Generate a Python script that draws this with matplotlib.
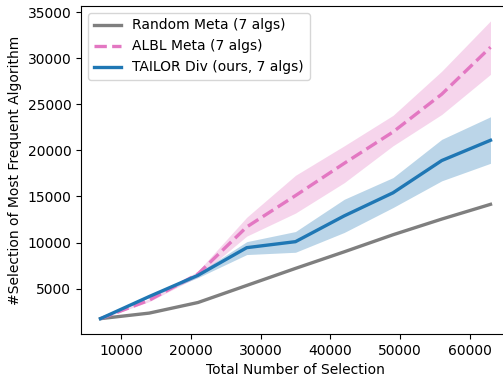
import matplotlib
matplotlib.use("Agg")
import matplotlib.pyplot as plt
import numpy as np

x = [7000, 14000, 21000, 28000, 35000, 42000, 49000, 56000, 63000]

random_mean = [1750, 2350, 3500, 5350, 7200, 9000, 10850, 12550, 14150]

albl_mean = [1750, 3750, 6600, 11700, 15100, 18600, 22000, 26100, 31200]
albl_low = [1700, 3600, 6300, 10700, 13200, 16500, 20500, 23900, 28250]
albl_high = [1800, 3900, 6900, 12750, 17300, 20500, 23800, 28600, 34050]

tailor_mean = [1750, 4150, 6450, 9450, 10100, 12900, 15400, 18900, 21100]
tailor_low = [1700, 4050, 6200, 8700, 8950, 11100, 13800, 16700, 18600]
tailor_high = [1800, 4250, 6700, 10100, 11200, 14700, 17050, 21200, 23650]

plt.rcParams['font.size'] = 10
fig = plt.figure(figsize=(5.03, 3.77), dpi=100)
ax = fig.add_axes([81/503, 43/377, (510-81)/503, (334-6)/377])

ax.plot(x, random_mean, color='tab:gray', lw=2.4, label='Random Meta (7 algs)')
ax.plot(x, albl_mean, color='tab:pink', lw=2.4, ls='--', label='ALBL Meta (7 algs)')
ax.fill_between(x, albl_low, albl_high, color='tab:pink', alpha=0.3, lw=0)
ax.plot(x, tailor_mean, color='tab:blue', lw=2.4, label='TAILOR Div (ours, 7 algs)')
ax.fill_between(x, tailor_low, tailor_high, color='tab:blue', alpha=0.3, lw=0)

ax.set_xticks([10000, 20000, 30000, 40000, 50000, 60000])
ax.set_yticks([5000, 10000, 15000, 20000, 25000, 30000, 35000])
ax.set_xlabel('Total Number of Selection')
ax.set_ylabel('#Selection of Most Frequent Algorithm')
ax.legend(loc='upper left')

fig.savefig('out.png', dpi=100)
